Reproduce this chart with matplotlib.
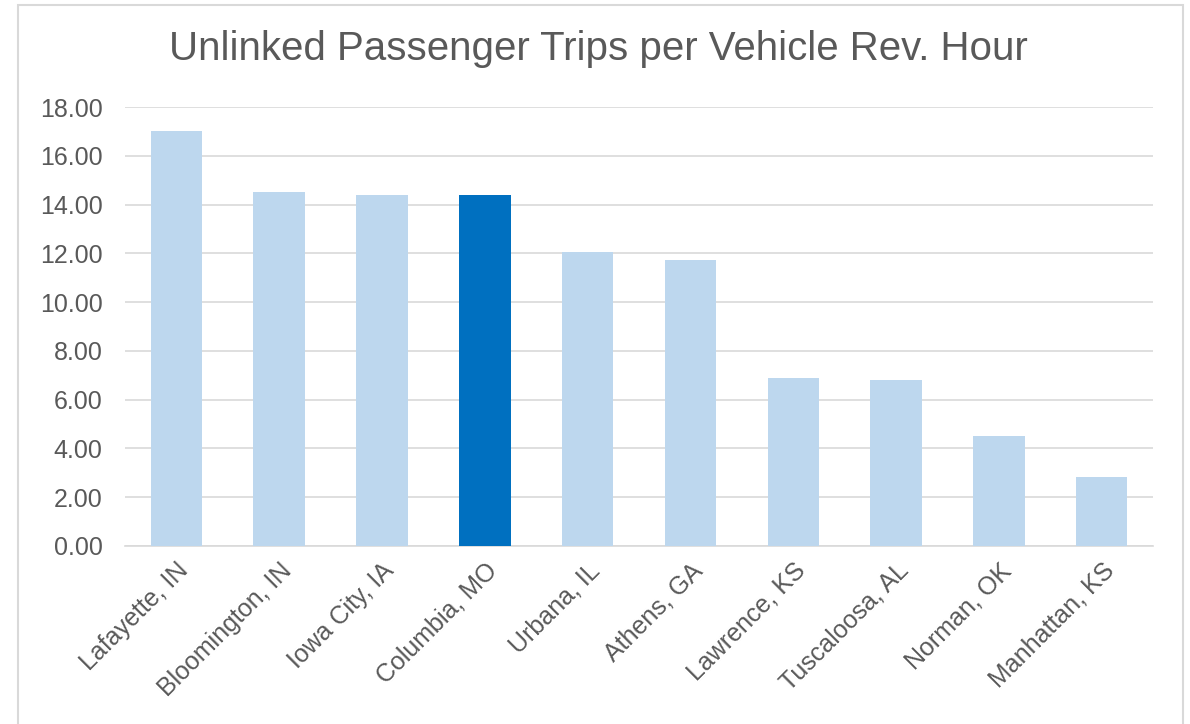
import matplotlib.pyplot as plt
from matplotlib.patches import Rectangle

# Trips per vehicle revenue hour, by city
cities = ["Lafayette, IN", "Bloomington, IN", "Iowa City, IA", "Columbia, MO",
          "Urbana, IL", "Athens, GA", "Lawrence, KS", "Tuscaloosa, AL",
          "Norman, OK", "Manhattan, KS"]
trips = [17.0, 14.5, 14.4, 14.4, 12.05, 11.73, 6.89, 6.79, 4.51, 2.83]
highlight = "Columbia, MO"

plt.rcParams["font.family"] = ["Liberation Sans", "DejaVu Sans"]

light = "#BDD7EE"
dark = "#0070C0"
grid = "#D9D9D9"
text = "#595959"

fig = plt.figure(figsize=(11.9, 7.24), dpi=100)
ax = fig.add_axes([0.105, 0.2459, 0.864, 0.6063])

colors = [dark if c == highlight else light for c in cities]
x = range(len(cities))
ax.bar(x, trips, width=0.5, color=colors, zorder=3)

ax.set_xlim(-0.5, len(cities) - 0.5)
ax.set_ylim(0, 18)
ax.set_yticks(range(0, 19, 2))
ax.set_yticklabels([f"{v:.2f}" for v in range(0, 19, 2)])
ax.set_xticks(list(x))
ax.set_xticklabels(cities, rotation=45, ha="right", rotation_mode="anchor")

ax.yaxis.grid(True, color=grid, linewidth=1.2, zorder=0)
for side in ["top", "right", "left"]:
    ax.spines[side].set_visible(False)
ax.spines["bottom"].set_color(grid)
ax.spines["bottom"].set_linewidth(1.2)
ax.tick_params(axis="y", length=0, pad=16, labelsize=18, labelcolor=text)
ax.tick_params(axis="x", length=0, pad=9, labelsize=18, labelcolor=text)

fig.text(0.503, 0.932, "Unlinked Passenger Trips per Vehicle Rev. Hour",
         ha="center", va="center", fontsize=29, color=text)

# light frame around the chart
fig.patches.append(Rectangle((18 / 1190, -0.05), 1165 / 1190, 1.05 - 5 / 724,
                             transform=fig.transFigure, fill=False,
                             edgecolor="#D9D9D9", linewidth=1.5))

fig.savefig("out.png", dpi=100, facecolor="white")
